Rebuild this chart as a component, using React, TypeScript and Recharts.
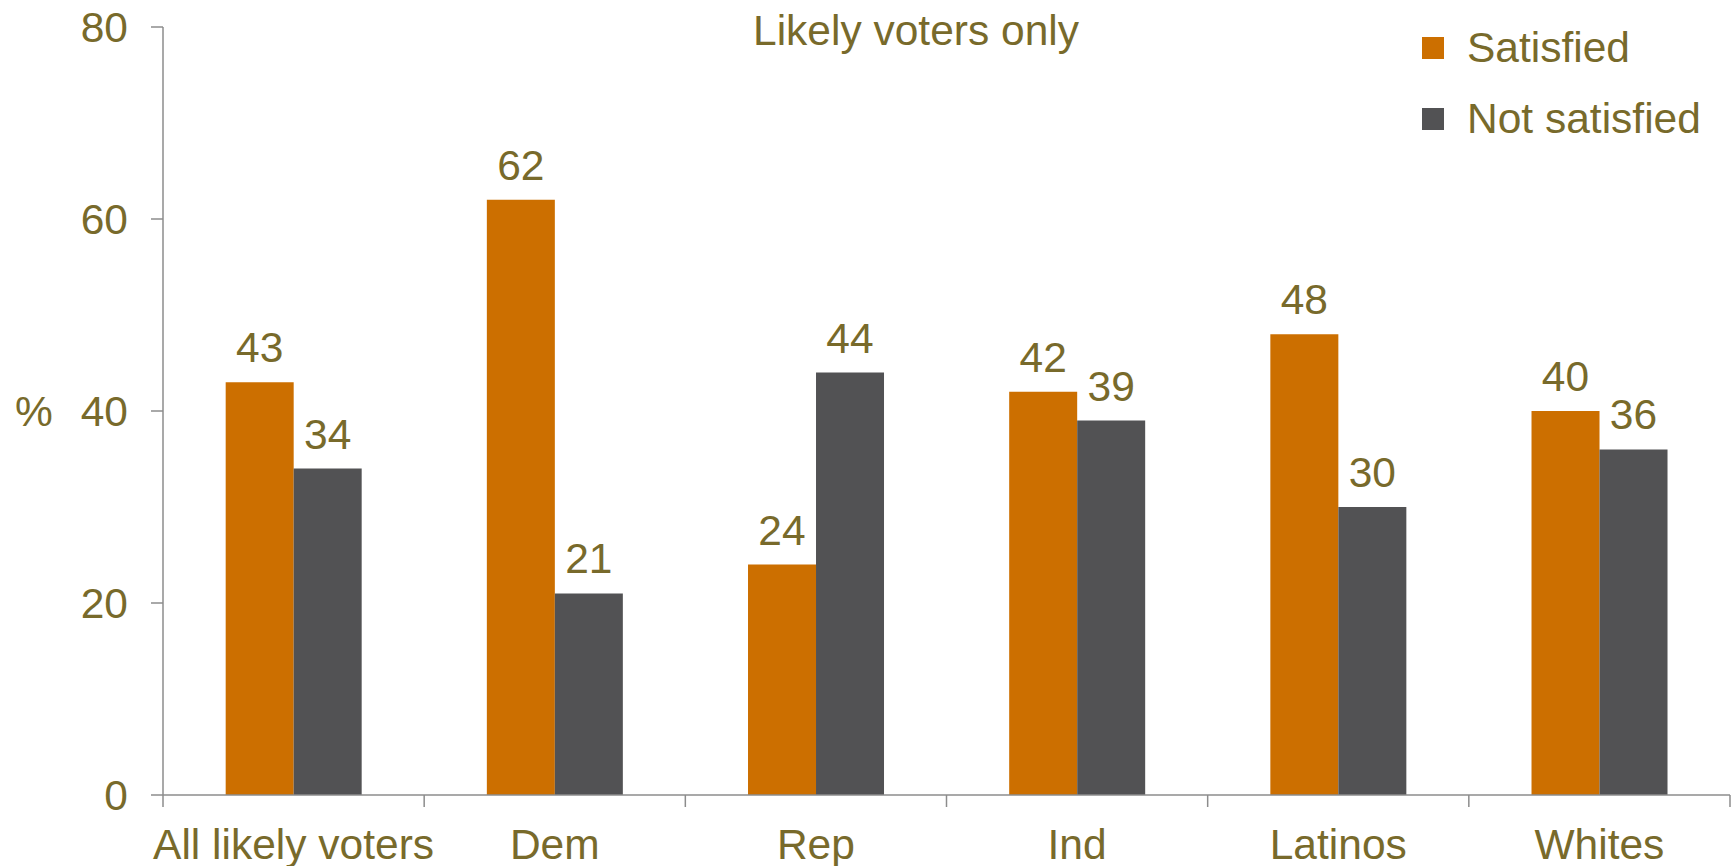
import React from 'react';
import { BarChart, Bar, XAxis, YAxis, LabelList } from 'recharts';

const categories = ['All likely voters', 'Dem', 'Rep', 'Ind', 'Latinos', 'Whites'];
const satisfied = [43, 62, 24, 42, 48, 40];
const notSatisfied = [34, 21, 44, 39, 30, 36];
const yTicks = [0, 20, 40, 60, 80];

const data = categories.map((group, i) => ({
  group,
  satisfied: satisfied[i],
  notSatisfied: notSatisfied[i],
}));

const TEXT = '#786a2b';
const AXIS = '#8c8c8c';
const ORANGE = '#cc6f00';
const GREY = '#525254';
const FONT = '"Liberation Sans", Arial, sans-serif';
const FS = 42.5;

const W = 1732;
const H = 866;
const LEFT = 163;
const RIGHT = 2;
const BAND = (W - LEFT - RIGHT) / categories.length;

const legendItems = [
  { label: 'Satisfied', color: ORANGE },
  { label: 'Not satisfied', color: GREY },
];

function CategoryTick(props: any) {
  const { x, y, payload, index } = props;
  const axisY = y - 34;
  return (
    <g>
      <line x1={x - BAND / 2} x2={x - BAND / 2} y1={axisY} y2={axisY + 12} stroke={AXIS} strokeWidth={1.5} />
      {index === categories.length - 1 && (
        <line x1={x + BAND / 2} x2={x + BAND / 2} y1={axisY} y2={axisY + 12} stroke={AXIS} strokeWidth={1.5} />
      )}
      <text x={x} y={y} dy="0.71em" textAnchor="middle" fill={TEXT} fontSize={FS} fontFamily={FONT}>
        {payload.value}
      </text>
    </g>
  );
}

export default function App() {
  const textStyle: React.CSSProperties = {
    fontFamily: FONT,
    fontSize: FS,
    lineHeight: '41px',
    color: TEXT,
    whiteSpace: 'nowrap',
  };
  return (
    <div style={{ position: 'absolute', left: 0, top: 0, width: W, height: H, background: '#fff' }}>
      <div style={{ ...textStyle, position: 'absolute', left: 0, width: 1832, top: 10, textAlign: 'center' }}>
        Likely voters only
      </div>
      {legendItems.map((it, i) => (
        <div
          key={it.label}
          style={{
            ...textStyle,
            position: 'absolute',
            left: 1422,
            top: 27 + i * 71,
            height: 41,
            display: 'flex',
            alignItems: 'center',
          }}
        >
          <span style={{ display: 'inline-block', width: 22, height: 22, background: it.color, marginRight: 23 }} />
          {it.label}
        </div>
      ))}
      <BarChart
        width={W}
        height={H}
        data={data}
        margin={{ top: 27, right: RIGHT, left: 0, bottom: 0 }}
        barCategoryGap="24%"
        barGap={0}
      >
        <XAxis
          dataKey="group"
          height={71}
          stroke={AXIS}
          strokeWidth={1.5}
          tickLine={false}
          tickSize={12}
          tickMargin={22}
          interval={0}
          tick={<CategoryTick />}
        />
        <YAxis
          width={LEFT}
          domain={[0, 80]}
          ticks={yTicks}
          stroke={AXIS}
          strokeWidth={1.5}
          tickSize={12}
          tickMargin={23}
          tick={{ fill: TEXT, fontSize: FS, fontFamily: FONT }}
          label={{ value: '%', position: 'insideLeft', offset: 15, fill: TEXT, fontSize: FS, fontFamily: FONT }}
        />
        <Bar dataKey="satisfied" name="Satisfied" fill={ORANGE} isAnimationActive={false}>
          <LabelList dataKey="satisfied" position="top" offset={20} fill={TEXT} fontSize={FS} fontFamily={FONT} />
        </Bar>
        <Bar dataKey="notSatisfied" name="Not satisfied" fill={GREY} isAnimationActive={false}>
          <LabelList dataKey="notSatisfied" position="top" offset={20} fill={TEXT} fontSize={FS} fontFamily={FONT} />
        </Bar>
      </BarChart>
    </div>
  );
}
